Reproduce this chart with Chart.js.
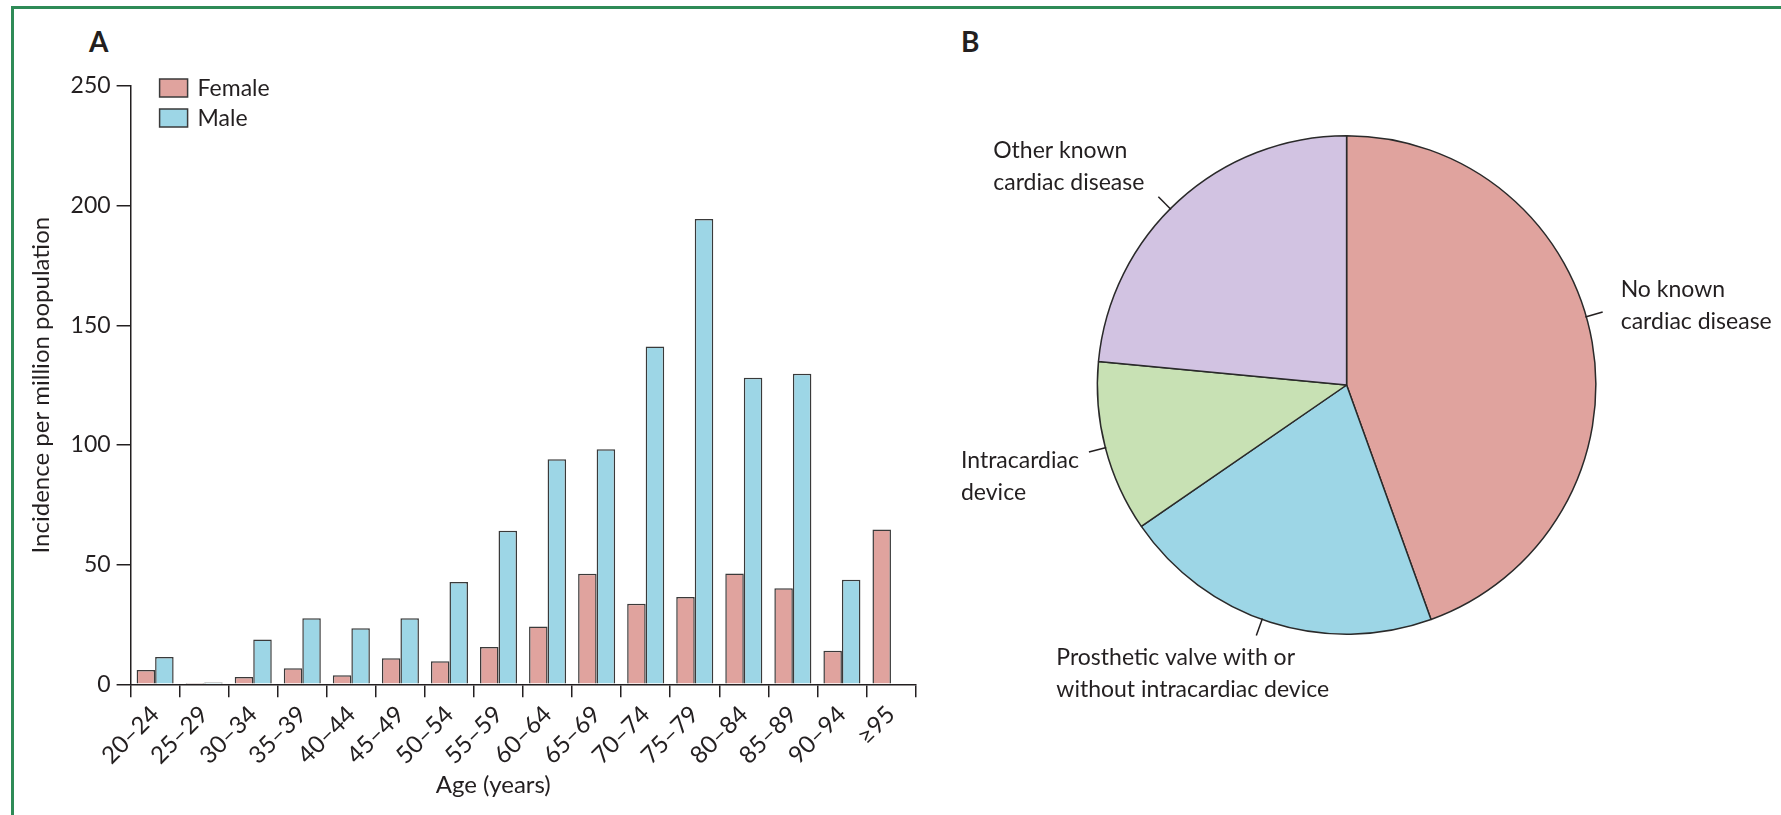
<!DOCTYPE html>
<html>
<head>
<meta charset="utf-8">
<script src="https://cdn.jsdelivr.net/npm/chart.js@4.4.0/dist/chart.umd.min.js"></script>
<style>
html, body { margin: 0; padding: 0; background: #fff; }
#page { position: relative; width: 1781px; height: 815px; overflow: hidden; font-family: Lato, sans-serif; color: #231f20; }
#frame { position: absolute; left: 11px; top: 6px; width: 1800px; height: 900px; border-top: 3px solid #2e8b57; border-left: 3px solid #2e8b57; }
.panel { position: absolute; top: 27px; font-weight: bold; font-size: 28px; line-height: 28px; }
#canvasA { position: absolute; left: 0; top: 0; }
#canvasB { position: absolute; left: 960px; top: 0; }
</style>
</head>
<body>
<div id="page">
  <div id="frame"></div>
  <div class="panel" style="left:89px">A</div>
  <div class="panel" style="left:961px">B</div>
  <canvas id="canvasA" width="960" height="815"></canvas>
  <canvas id="canvasB" width="821" height="815"></canvas>
</div>
<script>
// panel A: incidence per million population by age group
const age_groups = ["20–24", "25–29", "30–34", "35–39", "40–44", "45–49", "50–54", "55–59",
                    "60–64", "65–69", "70–74", "75–79", "80–84", "85–89", "90–94", "≥95"];
const female_incidence = [6.0, 0.5, 3.1, 6.7, 3.8, 10.9, 9.6, 15.6, 24.1, 46.2, 33.7, 36.5, 46.3, 40.1, 14.0, 64.7];
const male_incidence = [11.4, 0.7, 18.7, 27.6, 23.4, 27.6, 42.7, 64.2, 94.0, 98.2, 141.2, 194.4, 128.1, 129.8, 43.7, null];
const y_ticks = [0, 50, 100, 150, 200, 250];

// panel B: share of cases by underlying cardiac condition (%)
const cause_labels = [["No known", "cardiac disease"],
                      ["Prosthetic valve with or", "without intracardiac device"],
                      ["Intracardiac", "device"],
                      ["Other known", "cardiac disease"]];
const cause_share = [44.5, 20.9, 11.1, 23.5];

const ink = "#231f20";
const pink = "#e0a39e";
const blue = "#9dd6e6";
const green = "#c8e1b4";
const lilac = "#d2c3e2";
const font_family = "Lato, sans-serif";

Chart.defaults.font.family = font_family;
Chart.defaults.color = ink;

// little boxed legend in the top left corner of the plot, plus the x title
// (the x title sits a bit left of the axis centre in the original)
const box_legend = {
    id: "box_legend",
    afterDraw(chart)
    {
        const ctx = chart.ctx;
        const area = chart.chartArea;
        ctx.save();
        ctx.font = "23px " + font_family;
        ctx.textBaseline = "middle";
        chart.data.datasets.forEach((ds, i) =>
        {
            const x = area.left + 29;
            const y = area.top - 7 + i * 30;
            ctx.fillStyle = ds.backgroundColor;
            ctx.fillRect(x, y, 28, 18);
            ctx.strokeStyle = "#3a3a3a";
            ctx.lineWidth = 1.5;
            ctx.strokeRect(x, y, 28, 18);
            ctx.fillStyle = ink;
            ctx.fillText(ds.label, x + 38, y + 10);
        });
        ctx.font = "24px " + font_family;
        ctx.textAlign = "center";
        ctx.fillText(chart.options.x_title, area.left + 0.462 * (area.right - area.left), 785);
        ctx.restore();
    }
};

const incidence_chart = new Chart("canvasA",
{
    type: "bar",
    data:
    {
        labels: age_groups,
        datasets:
        [
            {
                label: "Female",
                data: female_incidence,
                backgroundColor: pink,
                borderColor: "#3a3a3a",
                borderWidth: 1.5
            },
            {
                label: "Male",
                data: male_incidence,
                backgroundColor: blue,
                borderColor: "#3a3a3a",
                borderWidth: 1.5
            }
        ]
    },
    options:
    {
        responsive: false,
        animation: false,
        x_title: "Age (years)",
        layout: { padding: { left: 20, top: 86, right: 44.5, bottom: 15 } },
        datasets: { bar: { categoryPercentage: 0.755, barPercentage: 1.0 } },
        plugins:
        {
            legend: { display: false },
            tooltip: { enabled: false }
        },
        scales:
        {
            x:
            {
                grid: { offset: true, drawOnChartArea: false, drawTicks: true, tickLength: 13, color: ink, lineWidth: 1.5 },
                border: { display: true, color: ink, width: 1.5 },
                ticks: { minRotation: 45, maxRotation: 45, autoSkip: false, padding: 3, font: { size: 24 }, color: ink },
                afterFit(scale) { scale.height = 115.7; }
            },
            y:
            {
                min: y_ticks[0],
                max: y_ticks[y_ticks.length - 1],
                afterBuildTicks(scale) { scale.ticks = y_ticks.map(v => ({ value: v })); },
                grid: { drawOnChartArea: false, drawTicks: true, tickLength: 14, color: ink, lineWidth: 1.5 },
                border: { display: true, color: ink, width: 1.5 },
                ticks: { padding: 6, font: { size: 23 }, color: ink },
                title: { display: true, text: "Incidence per million population", font: { size: 24 }, color: ink, padding: { top: 7, bottom: 0 } },
                afterFit(scale) { scale.width = 110.6; }
            }
        }
    },
    plugins: [box_legend]
});

// leader lines and two-line labels round the pie
const label_layout =
[
    { shift: -6, side: "left", dx: 18, dy: -22 },
    { shift: 2, side: "left", dx: -200, dy: 22 },
    { shift: 0, side: "right", dx: -10, dy: 9 },
    { shift: -2.7, side: "right", dx: -14, dy: -46 }
];

const pie_labels = {
    id: "pie_labels",
    afterDatasetsDraw(chart)
    {
        const ctx = chart.ctx;
        const meta = chart.getDatasetMeta(0);
        ctx.save();
        ctx.font = "23px " + font_family;
        ctx.textBaseline = "middle";
        ctx.textAlign = "left";
        ctx.strokeStyle = ink;
        ctx.lineWidth = 1.5;
        meta.data.forEach((arc, i) =>
        {
            const p = arc.getProps(["x", "y", "startAngle", "endAngle", "outerRadius"], true);
            const lay = label_layout[i];
            const a = (p.startAngle + p.endAngle) / 2 + lay.shift * Math.PI / 180;
            const x0 = p.x + Math.cos(a) * (p.outerRadius - 1);
            const y0 = p.y + Math.sin(a) * (p.outerRadius - 1);
            const x1 = p.x + Math.cos(a) * (p.outerRadius + 17);
            const y1 = p.y + Math.sin(a) * (p.outerRadius + 17);
            ctx.beginPath();
            ctx.moveTo(x0, y0);
            ctx.lineTo(x1, y1);
            ctx.stroke();
            const lines = chart.data.labels[i];
            const w = Math.max(...lines.map(t => ctx.measureText(t).width));
            const left = lay.side === "left" ? x1 + lay.dx : x1 + lay.dx - w;
            ctx.fillStyle = ink;
            lines.forEach((t, j) => ctx.fillText(t, left, y1 + lay.dy + j * 32));
        });
        ctx.restore();
    }
};

const cause_chart = new Chart("canvasB",
{
    type: "pie",
    data:
    {
        labels: cause_labels,
        datasets:
        [
            {
                data: cause_share,
                backgroundColor: [pink, blue, green, lilac],
                borderColor: "#2a2a2a",
                borderWidth: 1.5
            }
        ]
    },
    options:
    {
        responsive: false,
        animation: false,
        layout: { padding: { left: 136.6, right: 184.4, top: 135, bottom: 180 } },
        plugins:
        {
            legend: { display: false },
            tooltip: { enabled: false }
        }
    },
    plugins: [pie_labels]
});
</script>
</body>
</html>
